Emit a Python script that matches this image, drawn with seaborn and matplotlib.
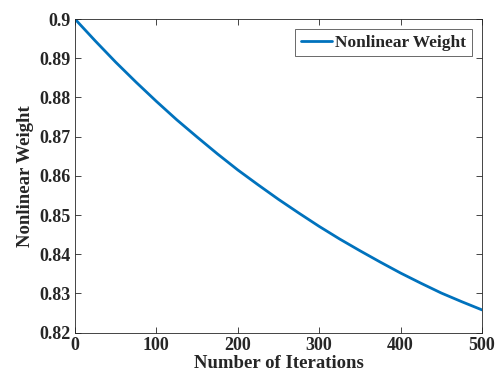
import numpy as np
import pandas as pd
import seaborn as sns
from matplotlib import pyplot as plt
from matplotlib.ticker import FuncFormatter

# values, every 25 iterations
iterations = [0, 25, 50, 75, 100, 125, 150, 175, 200, 225, 250,
              275, 300, 325, 350, 375, 400, 425, 450, 475, 500]
weight = [0.9000, 0.8944, 0.8890, 0.8839, 0.8790, 0.8743, 0.8699, 0.8656,
          0.8615, 0.8577, 0.8540, 0.8505, 0.8471, 0.8439, 0.8409, 0.8380,
          0.8352, 0.8326, 0.8301, 0.8279, 0.8258]
x_ticks = [0, 100, 200, 300, 400, 500]
y_ticks = [0.82, 0.83, 0.84, 0.85, 0.86, 0.87, 0.88, 0.89, 0.9]

df = pd.DataFrame({'Number of Iterations': iterations, 'Nonlinear Weight': weight})

sns.set_theme(style='ticks')
plt.rcParams['font.family'] = ['Liberation Serif', 'DejaVu Serif']
plt.rcParams['font.weight'] = 'bold'
plt.rcParams['axes.labelweight'] = 'bold'

fig = plt.figure(figsize=(4.95, 3.81), dpi=100)
ax = fig.add_axes([0.1515, 0.127, 0.8222, 0.823])
sns.lineplot(data=df, x='Number of Iterations', y='Nonlinear Weight', ax=ax,
             color='#0072BD', lw=2, label='Nonlinear Weight')

ax.set_xlim(0, 500); ax.set_ylim(0.82, 0.9)
ax.set_xticks(x_ticks); ax.set_yticks(y_ticks)
ax.yaxis.set_major_formatter(FuncFormatter(lambda v, _: f'{v:g}'))
ax.tick_params(direction='in', top=True, right=True, length=4, width=0.6,
               color='#262626', labelsize=13, labelcolor='#262626', pad=3)
for lbl in ax.get_xticklabels() + ax.get_yticklabels():
    lbl.set_fontweight('bold')
for s in ax.spines.values():
    s.set_visible(True); s.set_color('#262626'); s.set_linewidth(0.6)
ax.set_xlabel('Number of Iterations', fontsize=13.5, color='#262626', labelpad=1)
ax.set_ylabel('Nonlinear Weight', fontsize=13.5, color='#262626', labelpad=4)

leg = ax.legend(loc='upper right', fontsize=12.5, frameon=True, fancybox=False,
                edgecolor='#262626', borderpad=0.3, handlelength=1.8,
                handletextpad=0.2, borderaxespad=0.6)
leg.get_frame().set_linewidth(0.6)
for t in leg.get_texts():
    t.set_fontweight('bold'); t.set_color('#262626')

plt.savefig('out.png', dpi=100)
plt.close()
